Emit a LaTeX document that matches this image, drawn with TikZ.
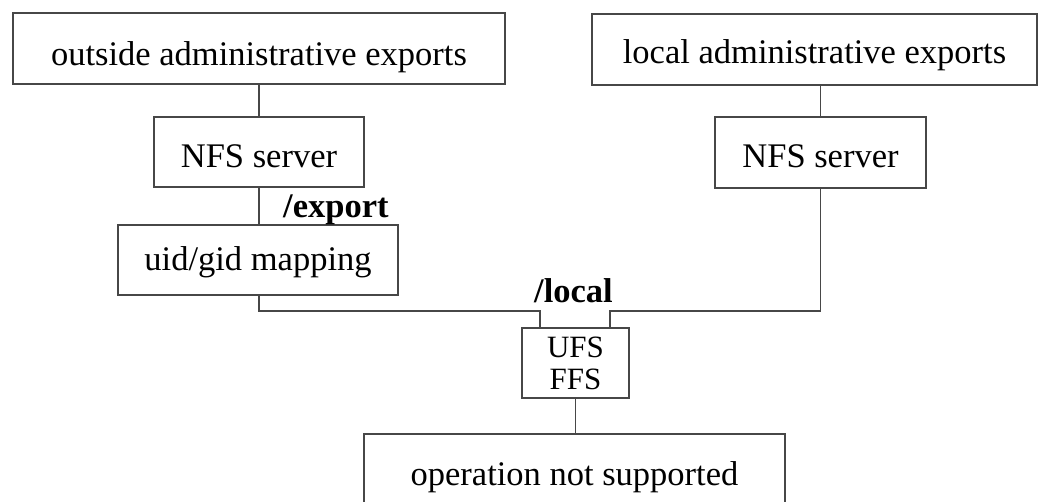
\documentclass[tikz,border=0pt]{standalone}
\usepackage{fontspec}
\setmainfont{Liberation Serif}
\begin{document}
\begin{tikzpicture}[x=1pt,y=-1pt,
  frame/.style={draw=black!72,line width=1.8pt,inner sep=0pt,outer sep=0pt},
  box/.style={frame,font=\fontsize{34.5}{40}\selectfont,text depth=0pt,text height=27pt},
  lbl/.style={inner sep=0pt,font=\fontsize{34.5}{40}\selectfont\bfseries},
  wire/.style={draw=black!72,line width=1.8pt}]
\useasboundingbox (0,0) rectangle (1040,501);
\clip (0,0) rectangle (1040,501);
\node[box,minimum width=492pt,minimum height=71pt,text height=33pt] (outside) at (259,48.5) {outside administrative exports};
\node[box,minimum width=445pt,minimum height=71pt,text height=27pt] (local) at (814.5,49.5) {local administrative exports};
\node[box,minimum width=210pt,minimum height=70pt,text height=30pt] (nfsL) at (259,152) {NFS server};
\node[box,minimum width=211pt,minimum height=71pt,text height=29pt] (nfsR) at (820.5,152.5) {NFS server};
\node[box,minimum width=280pt,minimum height=70pt,text height=20pt] (uid) at (258,260) {uid/gid mapping};
\node[frame,minimum width=107pt,minimum height=70pt,align=center,
  font=\fontsize{31}{32}\selectfont] (ufs) at (575.5,363) {UFS\\FFS};
\node[box,minimum width=421pt,minimum height=78pt,text height=24pt] (op) at (574.5,473) {operation not supported};
\node[lbl,anchor=base west] (exp) at (283,217) {/export};
\node[lbl,anchor=base west] (loc) at (534,302) {/local};
\coordinate (busL) at (259,311);
\coordinate (busR) at (820.5,311);
\coordinate (inL) at (540,311);
\coordinate (inR) at (610,311);
\draw[wire] (outside.south) -- (nfsL.north);
\draw[wire] (local.south -| nfsR.north) -- (nfsR.north);
\draw[wire] (nfsL.south) -- (nfsL.south |- uid.north);
\draw[wire] (uid.south -| busL) -- (busL) -- (inL) -- (inL |- ufs.north);
\draw[wire] (nfsR.south) -- (busR) -- (inR) -- (inR |- ufs.north);
\draw[wire] (ufs.south) -- (ufs.south |- op.north);
\end{tikzpicture}
\end{document}
